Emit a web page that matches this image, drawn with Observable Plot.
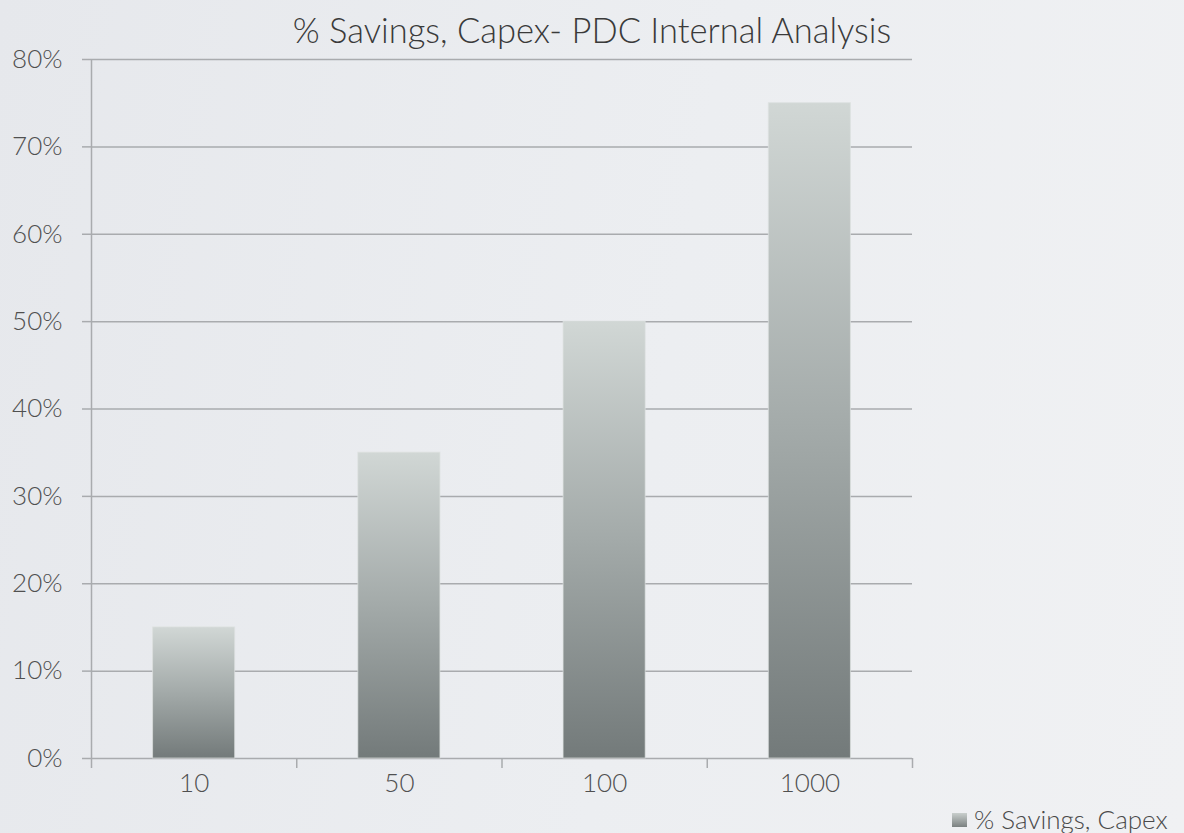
<!DOCTYPE html>
<html>
<head>
<meta charset="utf-8">
<script src="https://cdn.jsdelivr.net/npm/d3@7"></script>
<script src="https://cdn.jsdelivr.net/npm/@observablehq/plot@0.6"></script>
<style>
  html, body { margin: 0; padding: 0; }
  body {
    width: 1184px; height: 833px; overflow: hidden; position: relative;
    background: linear-gradient(100deg, #e6e8ec 0%, #eceef1 55%, #f0f1f3 100%);
    font-family: "Lato", "Open Sans", sans-serif; font-weight: 300; color: #555;
  }
  #title {
    height: 40px; line-height: 60px; text-align: center; overflow: visible;
    font-size: 34.5px; color: #3a3a3a; font-weight: 300; white-space: nowrap;
    position: relative; z-index: 1;
  }
  #chart svg { display: block; background: transparent; }
  #legend {
    position: absolute; left: 952px; top: 806px; white-space: nowrap;
    font-size: 26px; line-height: 26px; color: #4a4a4a; display: flex; align-items: center;
  }
  #legend .sw {
    width: 15px; height: 14px; margin-right: 7px; margin-top: 2px;
    background: linear-gradient(180deg, #c9cfcd, #7b8181);
  }
</style>
</head>
<body>
<div id="title">% Savings, Capex- PDC Internal Analysis</div>
<div id="chart"></div>
<div id="legend"><span class="sw"></span><span>% Savings, Capex</span></div>
<script>
const categories = ["10", "50", "100", "1000"];
const savings = [0.15, 0.35, 0.50, 0.75];
const yTicks = [0, 0.1, 0.2, 0.3, 0.4, 0.5, 0.6, 0.7, 0.8];
const seriesName = "% Savings, Capex";

const data = categories.map((c, i) => ({category: c, index: i, value: savings[i]}));
const half = 0.2;
const gridColor = "#a9abae";

const chart = Plot.plot({
  width: 1184,
  height: 760,
  marginLeft: 91,
  marginRight: 272,
  marginTop: 19,
  marginBottom: 42,
  style: {fontFamily: "Lato, 'Open Sans', sans-serif", fontSize: "26px", color: "#555", background: "transparent"},
  x: {domain: [0, categories.length], axis: null},
  y: {domain: [0, 0.8], axis: null},
  marks: [
    Plot.ruleY(yTicks, {stroke: gridColor, strokeWidth: 1.5}),
    Plot.ruleX([0], {y1: 0, y2: 0.8, stroke: gridColor, strokeWidth: 1.5}),
    Plot.axisY({ticks: yTicks, tickFormat: d => Math.round(d * 100) + "%", tickSize: 9, tickPadding: 20,
      label: null, stroke: gridColor, strokeWidth: 1.5, fill: "#505050", fontWeight: 300, fontSize: 26}),
    Plot.axisX({ticks: d3.range(categories.length + 1), tickSize: 10, tickFormat: () => "",
      label: null, stroke: gridColor, strokeWidth: 1.5}),
    Plot.axisX({ticks: categories.map((c, i) => i + 0.5), tickSize: 0, tickPadding: 15,
      label: null, tickFormat: d => categories[Math.floor(d)], fill: "#505050", fontWeight: 300, fontSize: 26}),
    Plot.rectY(data, {x1: d => d.index + 0.5 - half, x2: d => d.index + 0.5 + half, y: "value",
      fill: "url(#barGrad)", stroke: "#dde1e0", strokeOpacity: 0.7, strokeWidth: 1, title: d => `${seriesName}: ${d.category}`})
  ]
});

const ns = "http://www.w3.org/2000/svg";
const defs = document.createElementNS(ns, "defs");
defs.innerHTML = `<linearGradient id="barGrad" x1="0" y1="0" x2="0" y2="1">
  <stop offset="0" stop-color="#d1d7d5"/>
  <stop offset="0.5" stop-color="#a3aaa9"/>
  <stop offset="1" stop-color="#737a7a"/>
</linearGradient>`;
chart.insertBefore(defs, chart.firstChild);
document.getElementById("chart").appendChild(chart);
</script>
</body>
</html>
